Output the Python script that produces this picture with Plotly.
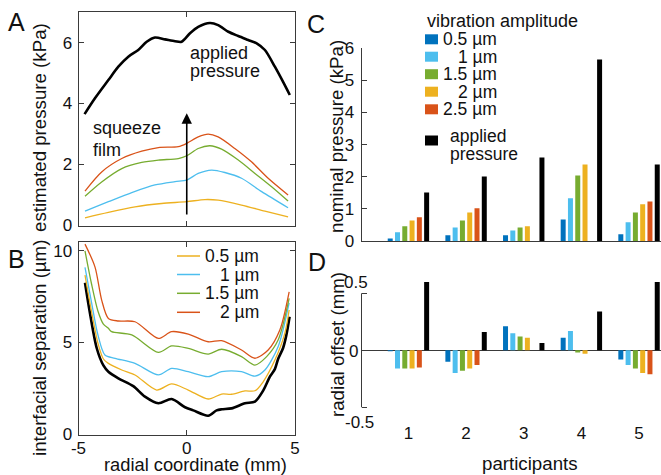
import plotly.graph_objects as go

W, H = 661, 475
def px(x): return x / W
def py(y): return 1 - y / H

FONT = "Liberation Sans, Arial, Helvetica, sans-serif"
TXT = "#111111"
AX = "#3a3a3a"
FS = 17        # tick labels
FT = 18.7      # axis titles (MATLAB 1.1x)
FL = 17.5      # legend / text

# MATLAB default colours
BLUE, LBLUE, GREEN, YELLOW, RED = "#0072BD", "#4DBEEE", "#77AC30", "#EDB120", "#D95319"

# ---------------- Panel A: estimated pressure (kPa) vs radial coordinate (mm)
A_applied_x = [-4.72, -4.24, -3.62, -3.16, -2.70, -2.24, -1.85, -1.47, -1.00, -0.54, -0.24, 0.15, 0.53,
               1.07, 1.45, 1.92, 2.38, 2.84, 3.23, 3.61, 4.07, 4.45, 4.76]
A_applied_y = [3.65, 4.17, 4.77, 5.21, 5.54, 5.76, 6.03, 6.17, 6.11, 6.05, 6.03, 6.31, 6.52,
               6.65, 6.58, 6.36, 6.22, 6.09, 5.98, 5.76, 5.21, 4.71, 4.28]
A_2um_x = [-4.70, -3.93, -3.00, -2.08, -1.31, -0.39, 0.00, 0.53, 0.99, 1.45, 2.22, 2.99, 3.76, 4.68]
A_2um_y = [1.12, 1.75, 2.19, 2.43, 2.55, 2.58, 2.69, 2.90, 2.99, 2.90, 2.52, 2.08, 1.54, 0.99]
A_15um_x = [-4.70, -3.93, -3.00, -2.08, -1.31, -0.39, 0.00, 0.53, 1.07, 1.61, 2.38, 3.15, 3.92, 4.68]
A_15um_y = [0.95, 1.42, 1.86, 2.06, 2.14, 2.19, 2.28, 2.52, 2.61, 2.50, 2.14, 1.70, 1.26, 0.79]
A_1um_x = [-4.70, -3.62, -2.54, -1.47, -0.54, 0.00, 0.53, 1.15, 1.76, 2.53, 3.46, 4.68]
A_1um_y = [0.46, 0.77, 1.07, 1.32, 1.43, 1.48, 1.70, 1.81, 1.73, 1.54, 1.10, 0.57]
A_05um_x = [-4.70, -3.62, -2.39, -1.16, 0.00, 0.84, 1.45, 2.53, 3.61, 4.68]
A_05um_y = [0.24, 0.42, 0.60, 0.71, 0.77, 0.84, 0.82, 0.66, 0.46, 0.27]
A_arrow = (0.0, 0.30, 3.68)  # x, tail y, head y

# ---------------- Panel B: interfacial separation (µm)
B_static_x = [-4.70, -4.47, -4.16, -3.85, -3.62, -3.16, -2.47, -1.93, -1.31, -0.70, -0.08, 0.30, 0.99,
              1.38, 1.61, 2.07, 2.69, 3.15, 3.53, 3.84, 4.07, 4.22, 4.45, 4.60, 4.75]
B_static_y = [8.25, 6.59, 4.70, 3.75, 3.41, 3.05, 2.62, 2.05, 1.69, 1.92, 1.47, 1.30, 1.01,
              1.30, 1.36, 1.41, 1.69, 1.78, 2.38, 3.14, 3.55, 4.10, 4.70, 5.40, 6.40]
B_05um_x = [-4.70, -4.40, -4.10, -3.85, -3.62, -3.00, -2.39, -1.39, -0.70, 0.07, 0.99, 1.61, 2.07,
            2.69, 3.15, 3.53, 4.07, 4.53, 4.73]
B_05um_y = [8.67, 6.70, 4.95, 4.10, 3.86, 3.50, 3.23, 2.41, 2.74, 2.41, 1.92, 2.19, 2.18,
            2.36, 2.37, 2.86, 4.04, 5.50, 6.77]
B_1um_x = [-4.70, -4.40, -4.10, -3.78, -3.31, -2.39, -1.31, -0.70, 0.07, 0.99, 1.61, 2.53, 3.15,
           3.61, 4.22, 4.73]
B_1um_y = [9.09, 7.20, 5.40, 4.32, 4.14, 3.86, 3.23, 3.59, 3.41, 3.14, 3.41, 3.41, 3.17,
           3.50, 4.77, 7.16]
B_15um_x = [-4.70, -4.40, -4.10, -3.85, -3.62, -3.47, -2.54, -1.31, -0.70, 0.07, 0.99, 1.61, 2.53,
            3.15, 3.69, 4.22, 4.73]
B_15um_y = [9.99, 8.20, 6.70, 6.00, 5.77, 5.59, 5.41, 4.46, 4.81, 4.68, 4.37, 4.63, 4.23,
            3.77, 4.23, 5.13, 7.40]
B_2um_x = [-4.70, -4.24, -3.93, -3.62, -3.16, -2.39, -1.31, -0.70, 0.07, 0.99, 1.61, 2.53, 3.15,
           3.76, 4.30, 4.73]
B_2um_y = [10.36, 9.12, 7.31, 6.31, 6.17, 6.13, 5.22, 5.59, 5.46, 5.04, 5.10, 4.59, 4.14,
           4.59, 5.68, 7.76]
B_legend = ["0.5 µm", "1 µm", "1.5 µm", "2 µm"]

# ---------------- Panels C and D: per participant
participants = [1, 2, 3, 4, 5]
amp_labels = ["0.5 µm", "1 µm", "1.5 µm", "2 µm", "2.5 µm"]
C_05 = [0.08, 0.18, 0.18, 0.67, 0.21]
C_1 = [0.27, 0.42, 0.33, 1.33, 0.58]
C_15 = [0.46, 0.64, 0.42, 2.04, 0.89]
C_2 = [0.64, 0.89, 0.46, 2.38, 1.14]
C_25 = [0.74, 1.02, 0.00, 0.00, 1.23]
C_applied = [1.51, 2.01, 2.60, 5.65, 2.38]

D_05 = [-0.005, -0.10, 0.21, 0.11, -0.08]
D_1 = [-0.16, -0.20, 0.15, 0.17, -0.13]
D_15 = [-0.16, -0.18, 0.12, -0.02, -0.16]
D_2 = [-0.16, -0.16, 0.11, -0.03, -0.20]
D_25 = [-0.15, -0.13, 0.00, 0.00, -0.21]
D_applied = [0.60, 0.16, 0.065, 0.34, 0.60]

fig = go.Figure()

# Panel A lines
for xs, ys, c, w in [(A_05um_x, A_05um_y, YELLOW, 1.3), (A_1um_x, A_1um_y, LBLUE, 1.3),
                     (A_15um_x, A_15um_y, GREEN, 1.3), (A_2um_x, A_2um_y, RED, 1.3),
                     (A_applied_x, A_applied_y, "black", 2.6)]:
    fig.add_trace(go.Scatter(x=xs, y=ys, mode="lines", line=dict(color=c, width=w, shape="spline", smoothing=0.8),
                             xaxis="x", yaxis="y", showlegend=False, hoverinfo="skip"))

# Panel B lines
for xs, ys, c, w in [(B_static_x, B_static_y, "black", 2.6), (B_05um_x, B_05um_y, YELLOW, 1.3),
                     (B_1um_x, B_1um_y, LBLUE, 1.3), (B_15um_x, B_15um_y, GREEN, 1.3),
                     (B_2um_x, B_2um_y, RED, 1.3)]:
    fig.add_trace(go.Scatter(x=xs, y=ys, mode="lines", line=dict(color=c, width=w, shape="spline", smoothing=0.8),
                             xaxis="x2", yaxis="y2", showlegend=False, hoverinfo="skip"))

bar_cols = [BLUE, LBLUE, GREEN, YELLOW, RED, "black"]
for vals, c in zip([C_05, C_1, C_15, C_2, C_25, C_applied], bar_cols):
    fig.add_trace(go.Bar(x=participants, y=vals, marker=dict(color=c, line=dict(width=0)),
                         xaxis="x3", yaxis="y3", showlegend=False, hoverinfo="skip"))
for vals, c in zip([D_05, D_1, D_15, D_2, D_25, D_applied], bar_cols):
    fig.add_trace(go.Bar(x=participants, y=vals, marker=dict(color=c, line=dict(width=0)),
                         xaxis="x4", yaxis="y4", showlegend=False, hoverinfo="skip"))

tickfont = dict(family=FONT, size=FS, color=TXT)
box = dict(showline=True, linecolor=AX, linewidth=1, mirror="allticks", ticks="inside", ticklen=5,
           tickcolor=AX, showgrid=False, zeroline=False, tickfont=tickfont, automargin=False)

xr = [0.186, 5.381]
fig.update_layout(
    width=W, height=H, margin=dict(l=0, r=0, t=0, b=0, autoexpand=False),
    paper_bgcolor="white", plot_bgcolor="white",
    barmode="group", bargap=0.242, bargroupgap=0.315,
    font=dict(family=FONT, size=FS, color=TXT),
    xaxis=dict(domain=[px(78.5), px(295)], range=[-5, 5], anchor="y", tickvals=[-5, 0, 5],
               showticklabels=False, **box),
    yaxis=dict(domain=[py(226), py(11.7)], range=[-0.03, 7.02], anchor="x", tickvals=[0, 2, 4, 6],
               ticklabelstandoff=2, **box),
    xaxis2=dict(domain=[px(78.5), px(295)], range=[-5, 5], anchor="y2", tickvals=[-5, 0, 5],
                ticktext=["-5", "0", "5"], ticklabelstandoff=-2, **box),
    yaxis2=dict(domain=[py(435), py(241.7)], range=[-0.04, 10.49], anchor="x2", tickvals=[0, 5, 10],
                ticklabelstandoff=2, **box),
    xaxis3=dict(domain=[px(361.5), 1], range=xr, anchor="y3", showticklabels=False, ticks="",
                showline=True, linecolor=AX, linewidth=1, showgrid=False, zeroline=False, automargin=False),
    yaxis3=dict(domain=[py(241), py(47.5)], range=[0, 6.02], anchor="x3", tickvals=[0, 1, 2, 3, 4, 5, 6],
                showline=True, linecolor=AX, linewidth=1, ticks="inside", ticklen=5, tickcolor=AX,
                showgrid=False, zeroline=False, tickfont=tickfont, ticklabelstandoff=3, automargin=False),
    xaxis4=dict(domain=[px(361.5), 1], range=xr, anchor="y4", tickvals=participants, ticks="",
                showline=False, showgrid=False, zeroline=False, tickfont=tickfont, ticklabelstandoff=2,
                automargin=False),
    yaxis4=dict(domain=[py(418.7), py(276.2)], range=[-0.6, 0.65], anchor="x4",
                tickvals=[-0.5, 0, 0.5], showticklabels=False, ticks="inside", ticklen=5, tickcolor=AX,
                showline=False, showgrid=False, zeroline=True, zerolinecolor=AX, zerolinewidth=1,
                automargin=False),
)

shapes = []
# D spine from -0.5 to 0.5
shapes.append(dict(type="line", xref="x4 domain", yref="y4", x0=0, x1=0, y0=-0.5, y1=0.5,
                   line=dict(color=AX, width=1)))
# Legend B samples
for yy, c in zip([256, 274.5, 293.3, 312.3], [YELLOW, LBLUE, GREEN, RED]):
    shapes.append(dict(type="line", xref="paper", yref="paper", x0=px(177), x1=px(200), y0=py(yy), y1=py(yy),
                       line=dict(color=c, width=1.5)))
# Legend C swatches
for yy, c in zip([39.3, 56.7, 74.2, 91.7, 109.3, 140.5], bar_cols):
    shapes.append(dict(type="rect", xref="paper", yref="paper", x0=px(425), x1=px(438),
                       y0=py(yy + 5), y1=py(yy - 5), fillcolor=c, line=dict(width=0)))
fig.update_layout(shapes=shapes)

ann = []
def text(x, y, s, size=FL, xanchor="center", angle=0):
    ann.append(dict(x=px(x), y=py(y), xref="paper", yref="paper", text=s, showarrow=False,
                    xanchor=xanchor, yanchor="middle", textangle=angle,
                    font=dict(family=FONT, size=size, color=TXT)))

# panel letters
for s, x, y in [("A", 16, 22), ("B", 16, 259), ("C", 316, 24), ("D", 317, 262)]:
    text(x, y, s, size=25)
# axis titles
text(39, 128, "estimated pressure (kPa)", size=FT, angle=-90)
text(39, 348, "interfacial separation (µm)", size=FT, angle=-90)
text(195, 464.5, "radial coordinate (mm)", size=18.3)
text(337, 137, "nominal pressure (kPa)", size=FT, angle=-90)
text(337, 345, "radial offset (mm)", size=FT, angle=-90)
text(530, 463, "participants", size=FT)
# panel A texts
text(187.5, 53, "applied", size=18, xanchor="left")
text(187.5, 71, "pressure", size=18, xanchor="left")
text(91, 128, "squeeze", size=18, xanchor="left")
text(91, 150, "film", size=18, xanchor="left")
# legend B text
for yy, s in zip([256, 274.5, 293.3, 312.3], B_legend):
    text(261, yy, s, xanchor="right")
# legend C text
text(425, 21, "vibration amplitude", size=18, xanchor="left")
for yy, s in zip([39.3, 56.7, 74.2, 91.7, 109.3], amp_labels):
    text(499, yy, s, xanchor="right")
text(448, 136, "applied", xanchor="left")
text(448, 154, "pressure", xanchor="left")
# D y tick labels
text(356, 282, "0.5", size=FS)
text(353, 351, "0", size=FS)
text(359, 422, "-0.5", size=FS)

# squeeze-film arrow in panel A
ann.append(dict(x=A_arrow[0], y=A_arrow[2], ax=A_arrow[0], ay=A_arrow[1], xref="x", yref="y",
                axref="x", ayref="y", text="", showarrow=True, arrowhead=2, arrowsize=1.3,
                arrowwidth=1.6, arrowcolor="black"))
fig.update_layout(annotations=ann)

fig.write_html("out.html", config={"displayModeBar": False},
               post_script="document.body.style.margin='0';document.body.style.overflow='hidden';")
